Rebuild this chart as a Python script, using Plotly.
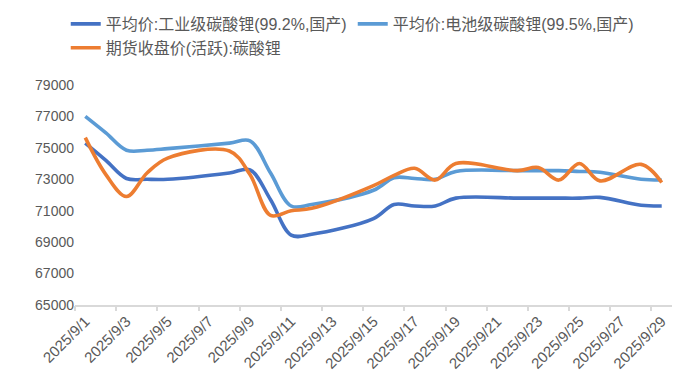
import plotly.graph_objects as go

dates = ["2025-09-01", "2025-09-02", "2025-09-03", "2025-09-04", "2025-09-05",
         "2025-09-08", "2025-09-09", "2025-09-10", "2025-09-11", "2025-09-12",
         "2025-09-15", "2025-09-16", "2025-09-17", "2025-09-18", "2025-09-19",
         "2025-09-22", "2025-09-23", "2025-09-24", "2025-09-25", "2025-09-26",
         "2025-09-28", "2025-09-29"]

industrial = [75300, 74200, 73050, 73000, 73000,
              73400, 73600, 71700, 69450, 69500,
              70500, 71400, 71300, 71300, 71800,
              71800, 71800, 71800, 71800, 71850,
              71350, 71300]

battery = [77000, 75950, 74850, 74850, 74950,
           75300, 75450, 73400, 71300, 71400,
           72300, 73100, 73050, 73000, 73500,
           73550, 73550, 73550, 73500, 73450,
           73000, 72950]

futures = [75650, 73300, 71900, 73400, 74350,
           74800, 73300, 70700, 71000, 71150,
           72600, 73250, 73700, 72950, 74000,
           73550, 73750, 72950, 74000, 72900,
           73950, 72800]

names = ["平均价:工业级碳酸锂(99.2%,国产)", "平均价:电池级碳酸锂(99.5%,国产)", "期货收盘价(活跃):碳酸锂"]
colors = ["#4472C4", "#5B9BD5", "#ED7D31"]

y_ticks = [65000, 67000, 69000, 71000, 73000, 75000, 77000, 79000]

fig = go.Figure()
for name, vals, col in zip(names, [industrial, battery, futures], colors):
    fig.add_trace(go.Scatter(x=dates, y=vals, name=name, mode="lines",
                             line=dict(color=col, width=3.6, shape="spline", smoothing=1)))

# empty trace to carry the overlay axis with between-category tick marks
fig.add_trace(go.Scatter(x=[], y=[], xaxis="x2", showlegend=False, hoverinfo="skip"))

DAY = 86400000
xr = ["2025-08-31 12:00", "2025-09-29 12:00"]
fig.update_layout(
    width=692, height=389,
    margin=dict(l=75, r=20, t=85, b=84, autoexpand=False),
    paper_bgcolor="white", plot_bgcolor="white",
    font=dict(family="Liberation Sans, Arial, Noto Sans CJK SC, sans-serif", size=14, color="#595959"),
    legend=dict(orientation="h", xref="container", x=0.095, xanchor="left",
                yref="container", y=0.982, yanchor="top",
                font=dict(size=16, color="#595959"), itemwidth=30, entrywidth=242,
                tracegroupgap=0, bgcolor="rgba(0,0,0,0)"),
    xaxis=dict(type="date", range=xr, tickmode="linear", tick0="2025-09-01", dtick=2 * DAY,
               tickformat="%Y/%-m/%-d", tickangle=-45, ticks="", showgrid=False,
               showline=True, linecolor="#D9D9D9", linewidth=1.5, zeroline=False,
               automargin=False, tickfont=dict(size=15, color="#595959")),
    xaxis2=dict(type="date", range=xr, overlaying="x", anchor="y", side="bottom",
                tickmode="linear", tick0="2025-08-31 12:00", dtick=2 * DAY,
                ticks="outside", ticklen=5, tickcolor="#D9D9D9", tickwidth=1.5,
                showticklabels=False, showgrid=False, showline=False, zeroline=False,
                automargin=False),
    yaxis=dict(range=[65000, 79000], tickmode="array", tickvals=y_ticks,
               ticktext=[str(v) for v in y_ticks], showgrid=False, showline=False,
               zeroline=False, ticks="", automargin=False,
               tickfont=dict(size=14, color="#595959")),
    showlegend=True,
)

fig.write_html("out.html", config={"displayModeBar": False},
               post_script="document.body.style.margin='0';")
